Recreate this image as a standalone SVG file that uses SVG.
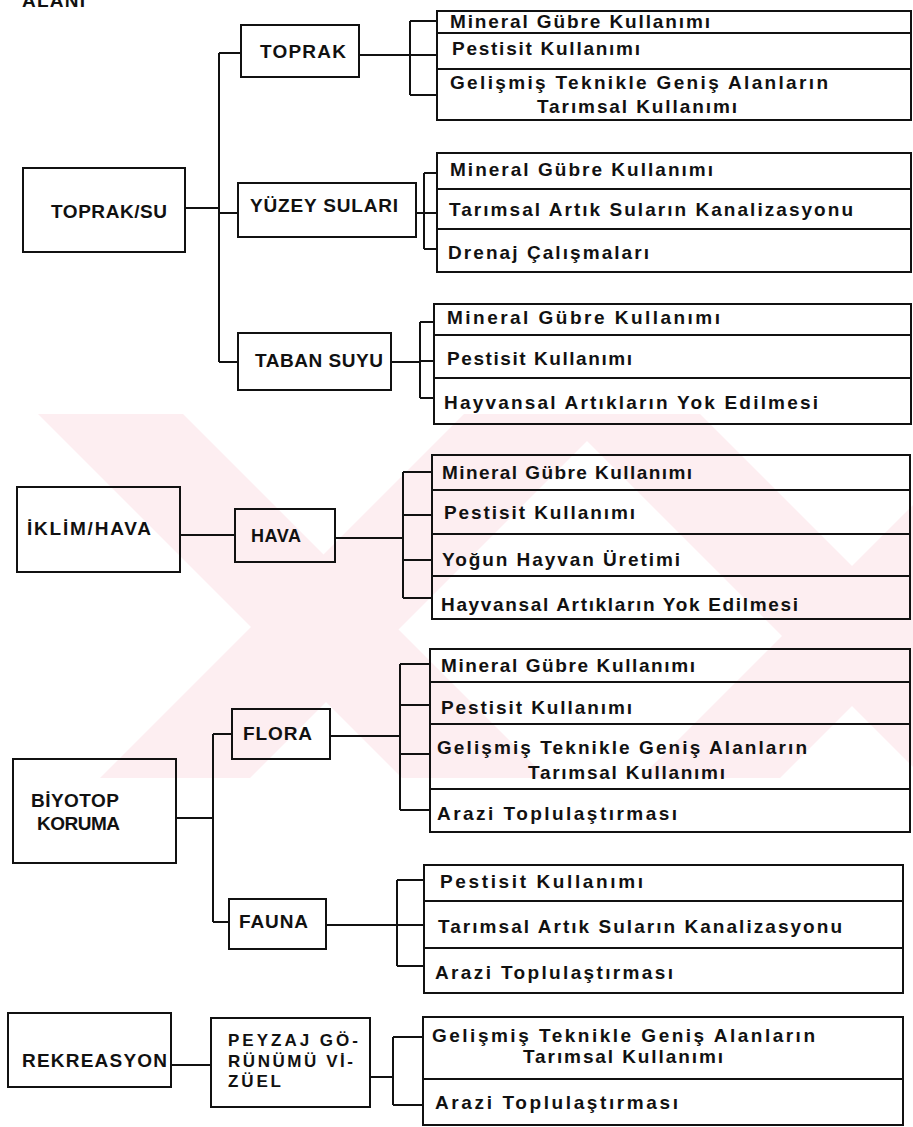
<svg xmlns="http://www.w3.org/2000/svg" width="913" height="1127" viewBox="0 0 913 1127">
<defs>
<style>
.bx{fill:none;stroke:#111;stroke-width:2}
.ln{fill:none;stroke:#111;stroke-width:2}
.t{font-family:"Liberation Sans",Arial,sans-serif;font-weight:bold;font-size:19px;fill:#111}
.n{font-size:19px}
.p{font-size:17px}
.wm{fill:#fdeef1}
</style>
<clipPath id="wmclip"><rect x="38" y="414" width="875" height="364"/></clipPath>
</defs>
<rect x="0" y="0" width="913" height="1127" fill="#fff"/>
<g id="watermark" clip-path="url(#wmclip)">
<polygon class="wm" points="38,414 183,414 547,778 402,778"/>
<polygon class="wm" points="100,778 250,778 614,414 464,414"/>
<polygon class="wm" points="560,414 700,414 1064,778 924,778"/>
<polygon class="wm" points="640,778 780,778 1144,414 1004,414"/>
</g>
<text class="t n" x="22" y="7" textLength="63" lengthAdjust="spacing">ALANI</text>
<g id="connectors" class="ln">
<path d="M219,53 V362 M219,53 H241 M185,208 H219 M219,213 H238 M219,362 H238"/>
<path d="M359,55 H410 M410,21 V95 M410,21 H437 M410,55 H437 M410,95 H437"/>
<path d="M416,213 H424 M424,173 V249 M424,173 H437 M424,213 H437 M424,249 H437"/>
<path d="M391,362 H420 M420,322 V398 M420,322 H434 M420,361 H434 M420,398 H434"/>
<path d="M180,535 H235 M335,538 H403 M403,472 V598 M403,472 H432 M403,515 H432 M403,560 H432 M403,598 H432"/>
<path d="M213,734 V922 M213,734 H232 M176,818 H213 M213,922 H229"/>
<path d="M330,736 H400 M400,664 V810 M400,664 H430 M400,705 H430 M400,754 H430 M400,810 H430"/>
<path d="M326,925 H397 M397,880 V966 M397,880 H424 M397,925 H424 M397,966 H424"/>
<path d="M171,1065 H211 M370,1077 H393 M393,1037 V1105 M393,1037 H423 M393,1105 H423"/>
</g>
<g id="toprak-su"><rect class="bx" x="23" y="168" width="162" height="84"/><text class="t n" x="51" y="218" textLength="116" lengthAdjust="spacing">TOPRAK/SU</text></g>
<g id="toprak"><rect class="bx" x="241" y="25" width="118" height="52"/><text class="t n" x="260" y="58" textLength="86" lengthAdjust="spacing">TOPRAK</text></g>
<g id="yuzey-sulari"><rect class="bx" x="238" y="183" width="178" height="54"/><text class="t n" x="250" y="212" textLength="148" lengthAdjust="spacing">YÜZEY SULARI</text></g>
<g id="taban-suyu"><rect class="bx" x="238" y="333" width="153" height="57"/><text class="t n" x="255" y="367" textLength="128" lengthAdjust="spacing">TABAN SUYU</text></g>
<g id="iklim-hava"><rect class="bx" x="17" y="487" width="163" height="85"/><text class="t n" x="27" y="535" textLength="124" lengthAdjust="spacing">İKLİM/HAVA</text></g>
<g id="hava"><rect class="bx" x="235" y="509" width="100" height="53"/><text class="t" x="251" y="542" style="font-size:18px" textLength="50" lengthAdjust="spacing">HAVA</text></g>
<g id="biyotop-koruma"><rect class="bx" x="13" y="759" width="163" height="104"/><text class="t n" x="31" y="807" textLength="88" lengthAdjust="spacing">BİYOTOP</text><text class="t n" x="37" y="830" textLength="83" lengthAdjust="spacing">KORUMA</text></g>
<g id="flora"><rect class="bx" x="232" y="709" width="98" height="50"/><text class="t n" x="243" y="740" textLength="69" lengthAdjust="spacing">FLORA</text></g>
<g id="fauna"><rect class="bx" x="229" y="899" width="97" height="50"/><text class="t n" x="239" y="928" textLength="69" lengthAdjust="spacing">FAUNA</text></g>
<g id="rekreasyon"><rect class="bx" x="8" y="1013" width="163" height="74"/><text class="t n" x="22" y="1067" textLength="145" lengthAdjust="spacing">REKREASYON</text></g>
<g id="peyzaj"><rect class="bx" x="211" y="1018" width="159" height="89"/><text class="t p" x="228" y="1046" textLength="130" lengthAdjust="spacing">PEYZAJ GÖ-</text><text class="t p" x="228" y="1067" textLength="125" lengthAdjust="spacing">RÜNÜMÜ Vİ-</text><text class="t p" x="228" y="1087" textLength="53" lengthAdjust="spacing">ZÜEL</text></g>
<g id="list-toprak">
<rect class="bx" x="437" y="11" width="474" height="109"/><path class="ln" d="M437,33 H911 M437,69 H911"/>
<text class="t" x="450" y="28" textLength="260" lengthAdjust="spacing">Mineral Gübre Kullanımı</text>
<text class="t" x="452" y="55" textLength="188" lengthAdjust="spacing">Pestisit Kullanımı</text>
<text class="t" x="450" y="89" textLength="378" lengthAdjust="spacing">Gelişmiş Teknikle Geniş Alanların</text>
<text class="t" x="537" y="113" textLength="200" lengthAdjust="spacing">Tarımsal Kullanımı</text>
</g>
<g id="list-yuzey">
<rect class="bx" x="437" y="153" width="474" height="119"/><path class="ln" d="M437,189 H911 M437,229 H911"/>
<text class="t" x="450" y="176" textLength="263" lengthAdjust="spacing">Mineral Gübre Kullanımı</text>
<text class="t" x="449" y="216" textLength="404" lengthAdjust="spacing">Tarımsal Artık Suların Kanalizasyonu</text>
<text class="t" x="448" y="259" textLength="201" lengthAdjust="spacing">Drenaj Çalışmaları</text>
</g>
<g id="list-taban">
<rect class="bx" x="434" y="304" width="477" height="120"/><path class="ln" d="M434,335 H911 M434,378 H911"/>
<text class="t" x="447" y="324" textLength="273" lengthAdjust="spacing">Mineral Gübre Kullanımı</text>
<text class="t" x="447" y="365" textLength="185" lengthAdjust="spacing">Pestisit Kullanımı</text>
<text class="t" x="444" y="409" textLength="374" lengthAdjust="spacing">Hayvansal Artıkların Yok Edilmesi</text>
</g>
<g id="list-hava">
<rect class="bx" x="432" y="455" width="478" height="164"/><path class="ln" d="M432,490 H910 M432,534 H910 M432,576 H910"/>
<text class="t" x="442" y="479" textLength="250" lengthAdjust="spacing">Mineral Gübre Kullanımı</text>
<text class="t" x="444" y="519" textLength="191" lengthAdjust="spacing">Pestisit Kullanımı</text>
<text class="t" x="442" y="566" textLength="238" lengthAdjust="spacing">Yoğun Hayvan Üretimi</text>
<text class="t" x="441" y="611" textLength="357" lengthAdjust="spacing">Hayvansal Artıkların Yok Edilmesi</text>
</g>
<g id="list-flora">
<rect class="bx" x="430" y="649" width="480" height="183"/><path class="ln" d="M430,682 H910 M430,724 H910 M430,789 H910"/>
<text class="t" x="441" y="672" textLength="254" lengthAdjust="spacing">Mineral Gübre Kullanımı</text>
<text class="t" x="441" y="714" textLength="191" lengthAdjust="spacing">Pestisit Kullanımı</text>
<text class="t" x="437" y="754" textLength="370" lengthAdjust="spacing">Gelişmiş Teknikle Geniş Alanların</text>
<text class="t" x="528" y="779" textLength="197" lengthAdjust="spacing">Tarımsal Kullanımı</text>
<text class="t" x="437" y="820" textLength="240" lengthAdjust="spacing">Arazi Toplulaştırması</text>
</g>
<g id="list-fauna">
<rect class="bx" x="424" y="865" width="479" height="128"/><path class="ln" d="M424,901 H903 M424,948 H903"/>
<text class="t" x="440" y="888" textLength="203" lengthAdjust="spacing">Pestisit Kullanımı</text>
<text class="t" x="438" y="933" textLength="404" lengthAdjust="spacing">Tarımsal Artık Suların Kanalizasyonu</text>
<text class="t" x="435" y="979" textLength="238" lengthAdjust="spacing">Arazi Toplulaştırması</text>
</g>
<g id="list-rekreasyon">
<rect class="bx" x="423" y="1017" width="480" height="108"/><path class="ln" d="M423,1079 H903"/>
<text class="t" x="432" y="1042" textLength="383" lengthAdjust="spacing">Gelişmiş Teknikle Geniş Alanların</text>
<text class="t" x="523" y="1063" textLength="200" lengthAdjust="spacing">Tarımsal Kullanımı</text>
<text class="t" x="435" y="1109" textLength="243" lengthAdjust="spacing">Arazi Toplulaştırması</text>
</g>
</svg>
